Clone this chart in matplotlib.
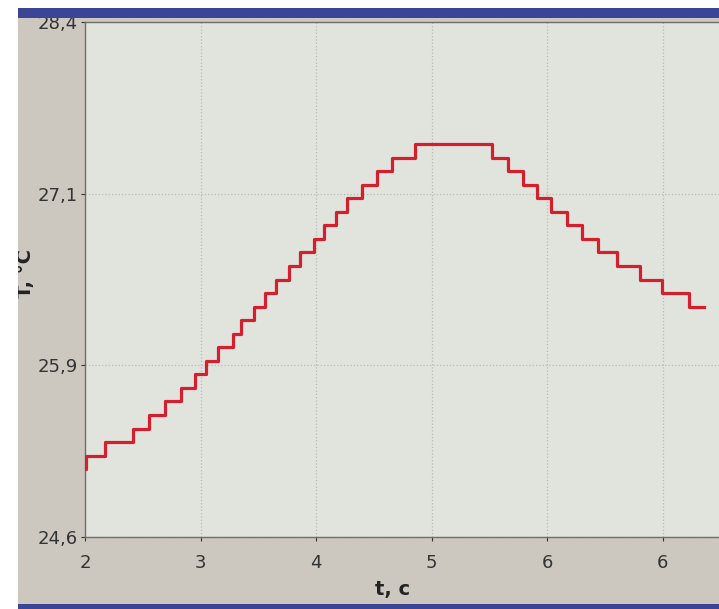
import matplotlib
matplotlib.use("Agg")
import matplotlib.pyplot as plt
from matplotlib.patches import Rectangle

# Step-change times (s) and temperature values (°C)
times = [2.000, 2.004, 2.156, 2.374, 2.498, 2.623, 2.747, 2.856, 2.942, 3.035,
         3.152, 3.214, 3.316, 3.401, 3.487, 3.588, 3.674, 3.783, 3.861, 3.954,
         4.040, 4.156, 4.273, 4.390, 4.569, 5.168, 5.293, 5.410, 5.519, 5.628,
         5.752, 5.869, 5.994, 6.149, 6.321, 6.492, 6.710, 6.827]
temps = [25.1, 25.2, 25.3, 25.4, 25.5, 25.6, 25.7, 25.8, 25.9, 26.0,
         26.1, 26.2, 26.3, 26.4, 26.5, 26.6, 26.7, 26.8, 26.9, 27.0,
         27.1, 27.2, 27.3, 27.4, 27.5, 27.4, 27.3, 27.2, 27.1, 27.0,
         26.9, 26.8, 26.7, 26.6, 26.5, 26.4, 26.3, 26.3]

x_ticks = [2.0, 2.9, 3.8, 4.7, 5.6, 6.5]
x_tick_labels = ["2", "3", "4", "5", "6", "6"]
y_ticks = [24.6, 25.8667, 27.1333, 28.4]
y_tick_labels = ["24,6", "25,9", "27,1", "28,4"]

W, H = 719, 609
fig = plt.figure(figsize=(W / 100, H / 100), dpi=100, facecolor="#ccc8c0")
ax = fig.add_axes([85 / W, 1 - 537 / H, (W - 85) / W, (537 - 22) / H])
ax.set_facecolor("#e1e4dd")

ax.step(times, temps, where="post", color="#d41f2e", linewidth=2.3, zorder=3)

ax.set_xlim(2.0, 6.94)
ax.set_ylim(24.6, 28.4)
ax.set_xticks(x_ticks)
ax.set_xticklabels(x_tick_labels)
ax.set_yticks(y_ticks)
ax.set_yticklabels(y_tick_labels)
ax.tick_params(axis="both", labelsize=13, colors="#333333", length=3, width=0.8)
ax.tick_params(axis="x", pad=9)
ax.tick_params(axis="y", pad=2)
ax.grid(True, color="#b8bbb4", linestyle=":", linewidth=0.9)
for s in ax.spines.values():
    s.set_color("#6f6f6a")
    s.set_linewidth(1.0)
ax.spines["right"].set_visible(False)

fig.text(393 / W, 1 - 590 / H, "t, c", ha="center", va="center",
         fontsize=14, fontweight="bold", color="#222222")
fig.text(25 / W, 1 - 273 / H, "T, °C", ha="center", va="center", rotation=90,
         fontsize=14, fontweight="bold", color="#222222")

# Screen frame elements from the photo (white margins, blue window bars)
fig.patches.append(Rectangle((0, 0), 18 / W, 1, transform=fig.transFigure,
                             facecolor="white", edgecolor="none", zorder=10))
fig.patches.append(Rectangle((0, 1 - 8 / H), 1, 8 / H, transform=fig.transFigure,
                             facecolor="white", edgecolor="none", zorder=10))
fig.patches.append(Rectangle((18 / W, 1 - 18 / H), 1, 10 / H, transform=fig.transFigure,
                             facecolor="#3b4596", edgecolor="none", zorder=9))
fig.patches.append(Rectangle((18 / W, 0), 1, 5 / H, transform=fig.transFigure,
                             facecolor="#3b4596", edgecolor="none", zorder=9))

fig.savefig("out.png", dpi=100, facecolor=fig.get_facecolor())
